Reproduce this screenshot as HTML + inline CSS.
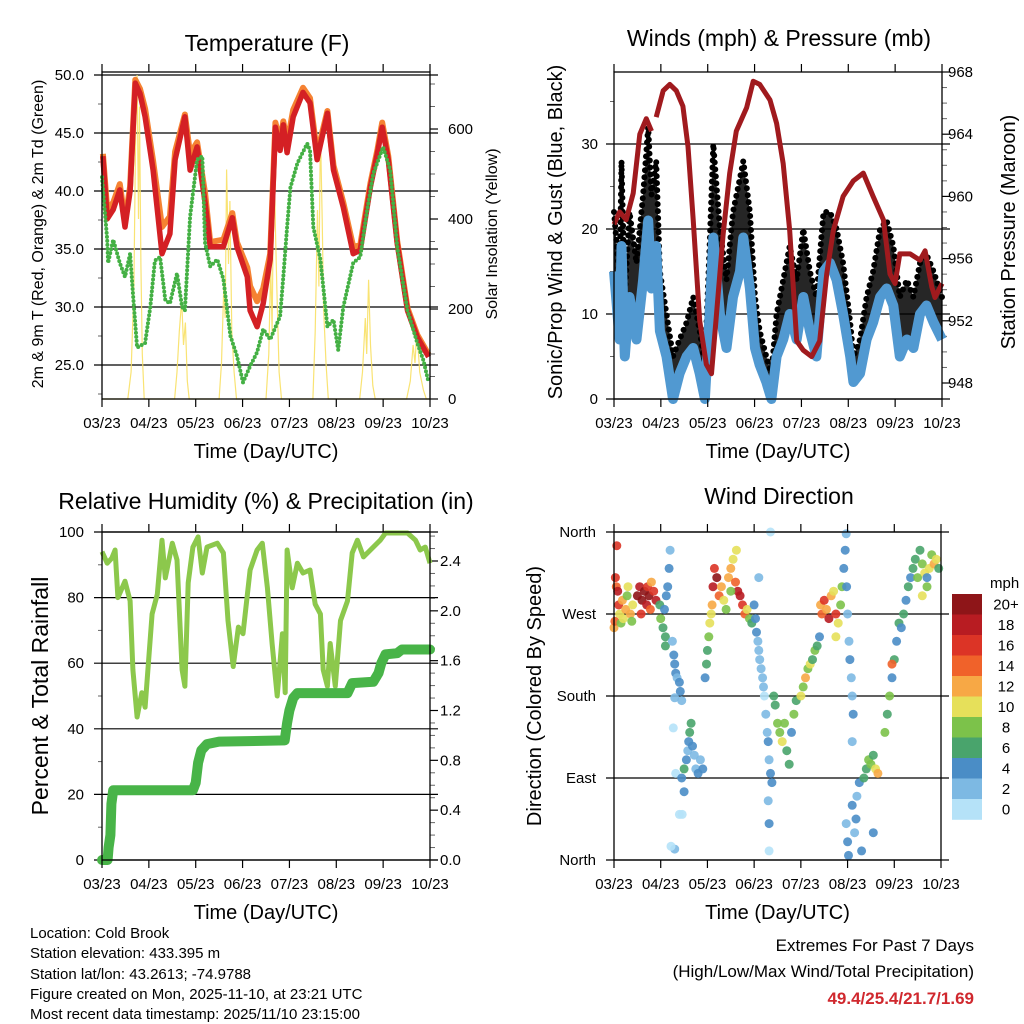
<!DOCTYPE html>
<html><head><meta charset="utf-8">
<style>
html,body{margin:0;padding:0;background:#fff;}
svg{display:block;font-family:"Liberation Sans",Arial,sans-serif;}
</style></head>
<body>
<svg id="fig" width="1024" height="1024" viewBox="0 0 1024 1024" xmlns="http://www.w3.org/2000/svg">
<rect x="0" y="0" width="1024" height="1024" fill="#fff"/>
<g id="g1"></g>
<g id="g2"></g>
<g id="g3"></g>
<g id="g4"></g>
<g font-size="15" fill="#000">
<text x="30" y="938">Location: Cold Brook</text>
<text x="30" y="958">Station elevation: 433.395 m</text>
<text x="30" y="979">Station lat/lon: 43.2613; -74.9788</text>
<text x="30" y="999">Figure created on Mon, 2025-11-10, at 23:21 UTC</text>
<text x="30" y="1019">Most recent data timestamp: 2025/11/10 23:15:00</text>
</g>
<g text-anchor="end" font-size="17">
<text x="974" y="951">Extremes For Past 7 Days</text>
<text x="974" y="977">(High/Low/Max Wind/Total Precipitation)</text>
<text x="974" y="1004" fill="#d0282e" font-weight="bold">49.4/25.4/21.7/1.69</text>
</g>
</svg>
<script>
// ---------- data ----------
const dayTicks = ["03/23","04/23","05/23","06/23","07/23","08/23","09/23","10/23"];
// Temperature panel
const tTimes = [0.02,0.11,0.24,0.38,0.49,0.60,0.71,0.81,0.92,1.09,1.28,1.45,1.56,1.77,1.88,2.03,2.20,2.31,2.59,2.78,2.88,3.10,3.16,3.31,3.44,3.59,3.70,3.80,3.87,3.95,4.08,4.29,4.44,4.59,4.81,4.94,5.15,5.36,5.51,5.73,5.88,5.98,6.11,6.30,6.52,6.73,6.97];
const temp2m = [43.0,37.6,38.4,40.1,36.9,40.0,49.3,48.4,46.4,41.8,34.6,36.3,42.7,46.4,41.8,43.8,39.0,35.2,35.2,37.7,35.2,32.6,29.7,28.3,30.3,34.1,45.5,43.5,45.7,43.3,46.4,48.5,47.6,42.7,46.7,41.8,38.6,34.6,34.9,40.4,43.3,45.5,42.7,35.5,29.7,27.4,25.7];
const temp9m = [43.2,38.4,39.0,40.6,37.4,40.4,49.6,48.8,47.1,42.6,36.9,37.8,43.4,46.6,43.2,44.2,39.8,35.6,35.8,38.1,35.6,33.4,31.8,30.5,31.6,34.6,45.9,44.2,46.0,44.1,47.0,48.9,48.0,43.2,46.9,42.2,39.0,35.2,35.3,40.7,43.6,45.9,43.0,35.7,29.9,27.6,25.9];
const tdTimes = [0,0.11,0.13,0.24,0.38,0.49,0.60,0.66,0.75,0.92,1.03,1.13,1.24,1.35,1.45,1.60,1.71,1.77,1.88,2.03,2.14,2.20,2.31,2.46,2.59,2.74,2.88,3.01,3.16,3.31,3.44,3.59,3.80,3.87,3.95,4.02,4.17,4.38,4.44,4.51,4.66,4.81,4.94,5.04,5.15,5.36,5.51,5.66,5.79,6.00,6.15,6.30,6.52,6.73,6.86,6.97];
const dewpt = [41.2,35.8,33.8,35.8,33.8,32.6,34.6,31.2,26.5,26.9,30.0,34.0,34.3,30.6,30.3,32.9,30.0,29.7,37.8,42.7,43.0,35.5,33.5,34.1,32.4,27.5,25.8,23.5,24.9,26.1,28.1,27.2,29.2,32.6,36.9,40.3,42.4,44.1,43.5,36.9,34.1,28.3,28.9,26.3,30.0,33.8,34.3,38.4,41.5,43.8,41.8,35.2,29.7,26.9,25.4,23.5];
const solarTimes = [0,0.55,0.62,0.68,0.72,0.75,0.78,0.80,0.83,0.86,0.90,1.55,1.60,1.65,1.70,1.74,1.78,1.82,1.86,2.50,2.55,2.60,2.63,2.66,2.70,2.73,2.77,2.82,2.87,3.50,3.56,3.60,3.63,3.67,3.70,3.73,3.78,3.83,4.50,4.55,4.60,4.63,4.66,4.70,4.73,4.78,4.83,5.50,5.56,5.62,5.65,5.69,5.73,5.78,5.83,6.50,6.58,6.64,6.68,6.72,6.78,6.86,6.92,7.0];
const solarVals  = [0,0,60,250,600,720,400,650,300,100,0,0,60,150,220,120,170,40,0,0,80,250,180,510,300,440,150,60,0,0,100,300,150,560,380,250,60,0,0,150,420,250,600,400,200,80,0,0,60,180,100,265,120,30,0,0,40,120,80,155,60,20,0,0];
// Winds panel
const wTimes = [0,0.12,0.16,0.23,0.33,0.48,0.62,0.73,0.80,0.90,0.98,1.12,1.26,1.40,1.55,1.69,1.83,1.94,2.04,2.12,2.26,2.40,2.54,2.69,2.76,2.90,3.01,3.11,3.25,3.36,3.47,3.61,3.75,3.90,4.04,4.18,4.32,4.47,4.61,4.75,4.89,5.04,5.11,5.25,5.39,5.53,5.68,5.82,5.96,6.10,6.25,6.39,6.53,6.67,6.82,7.0];
const windSpd = [15,7,18,5,12,7,14,21,13,18,8,5,0,3,5,6,3,0,10,19,10,6,12,15,19,13,6,4,2,0,5,7,10,7,12,8,5,15,16,14,10,5,2,3,7,9,12,13,11,5,7,6,10,11,9,7];
const windGust = [22,14,28,12,22,16,24,32,24,28,15,10,5,7,9,12,8,4,18,30,20,14,22,26,28,22,12,8,5,3,10,14,18,14,20,15,12,22,22,20,16,9,5,7,12,15,20,21,18,12,14,12,16,17,15,12];
const pTimes = [0,0.12,0.26,0.41,0.55,0.69,0.80,null,0.90,1.05,1.19,1.33,1.47,1.58,1.69,1.83,1.97,2.08,2.19,2.33,2.47,2.61,2.83,2.97,3.11,3.33,3.47,3.61,3.75,3.90,4.04,4.22,4.39,4.54,4.68,4.89,5.11,5.32,5.53,5.75,5.89,6.0,6.10,6.32,6.53,6.64,6.78,6.85,7.0];
const pressure = [958.2,959.0,958.5,960.2,964.0,965.0,964.2,null,965.1,966.8,967.2,966.8,965.8,963.2,958.5,952.0,949.2,948.6,952.5,957.6,961.5,964.2,965.7,967.4,967.2,966.2,964.7,962.1,957.8,950.7,950.1,949.7,950.7,955.0,957.8,960.0,961.0,961.5,960.0,958.5,955.0,954.4,956.3,956.3,955.9,956.5,954.2,953.5,954.4];
// RH / precip panel
const rhTimes = [0,0.11,0.21,0.28,0.34,0.49,0.60,0.66,0.75,0.85,0.92,1.07,1.18,1.28,1.35,1.50,1.60,1.71,1.77,1.84,1.94,2.05,2.14,2.24,2.46,2.59,2.69,2.80,2.91,3.01,3.16,3.31,3.42,3.53,3.63,3.74,3.85,3.91,3.95,4.06,4.17,4.29,4.44,4.55,4.66,4.72,4.81,4.87,4.98,5.09,5.24,5.34,5.45,5.58,5.79,5.94,6.05,6.52,6.69,6.79,6.90,7.0];
const rhVals = [94,90.5,92,94.5,80,85,79,58,43.6,51,46.6,75,81,97.5,86,96.6,91.5,58,53,84.5,95.4,98.5,87.5,95.4,96.6,93.6,73,59,71,69,88.4,94.5,96.6,83,66,50,69,51,94.5,83,90.5,87.5,88.4,78,75,58,53,66,53,73,79,93.6,97.5,92.4,95.4,97.5,99.7,99.7,97.5,94.5,95.4,90.5];
const prTimes = [0,0.12,0.14,0.18,0.20,0.24,1.94,2.0,2.05,2.12,2.24,2.5,3.9,3.95,4.0,4.08,4.17,5.24,5.34,5.79,5.9,5.96,6.05,6.3,6.4,7.0];
const prVals  = [0,0,0.1,0.2,0.45,0.56,0.56,0.62,0.78,0.88,0.93,0.95,0.96,1.1,1.2,1.3,1.34,1.34,1.42,1.43,1.5,1.58,1.65,1.66,1.69,1.69];
// Wind direction panel
const dirDays = [0.0,0.02,0.05,0.03,0.08,0.1,0.12,0.15,0.18,0.2,0.25,0.28,0.3,0.35,0.38,0.4,0.06,0.5,0.55,0.6,0.65,0.7,0.72,0.75,0.78,0.8,0.85,0.9,0.58,0.98,1.0,1.05,1.08,1.1,1.12,1.15,1.18,1.2,1.1,1.25,1.28,1.3,1.32,1.35,1.4,1.42,1.45,1.3,1.27,1.32,1.4,1.3,1.22,1.45,1.5,1.55,1.58,1.6,1.62,1.65,1.68,1.72,1.75,1.8,1.85,1.9,1.5,1.46,1.95,1.98,2.0,2.03,2.05,2.08,2.1,2.12,2.15,2.2,2.25,2.3,2.35,2.4,2.45,2.5,2.55,2.6,2.65,2.7,2.75,2.8,2.85,2.9,2.95,2.5,2.62,3.0,3.03,3.05,3.08,3.1,3.12,3.15,3.18,3.2,3.22,3.25,3.28,3.3,3.32,3.35,3.38,3.1,3.3,3.32,3.32,3.35,3.42,3.45,3.5,3.55,3.6,3.65,3.7,3.75,3.8,3.85,3.9,4.0,4.05,4.1,4.15,4.2,4.25,4.3,4.35,4.4,4.42,4.45,4.5,4.55,4.6,4.65,4.7,4.75,4.8,4.85,4.88,4.75,4.92,4.95,4.97,4.98,5.0,5.03,5.05,5.08,5.1,5.12,5.1,4.97,5.0,5.02,5.1,5.15,5.18,5.2,5.25,5.3,5.35,5.4,5.45,5.5,5.55,5.6,5.65,5.55,5.8,5.85,5.9,5.95,6.0,6.05,6.1,6.15,6.2,6.25,6.3,6.35,5.95,6.4,6.45,6.5,6.55,6.6,6.65,6.7,6.75,6.8,6.85,6.9,6.95,6.6,6.7];
const dirVals = [255,262,300,310,295,280,270,260,285,265,275,290,300,270,262,280,345,290,300,285,295,280,300,290,275,305,295,285,270,280,265,255,275,245,290,300,320,340,235,240,225,215,205,200,195,185,175,178,145,95,50,12,15,90,100,110,120,130,140,150,125,115,100,95,110,100,75,50,200,215,230,245,260,270,280,300,320,310,290,300,285,275,310,320,330,305,295,290,280,270,275,265,260,295,340,280,265,250,240,230,220,210,200,190,180,160,140,130,110,95,85,310,65,40,10,360,180,170,150,140,130,150,120,105,140,160,175,180,190,200,210,215,220,230,235,245,280,270,285,275,265,290,295,270,260,280,300,245,320,340,358,300,270,240,220,200,180,160,130,40,20,5,60,30,45,70,85,10,90,100,110,105,115,100,95,30,140,160,180,200,220,240,260,255,270,285,300,310,215,320,330,310,340,325,315,300,320,335,325,330,320,290,310];
const dirSpd = [12,14,14,16,18,16,10,8,12,10,12,8,10,12,8,10,16,20,18,20,20,18,16,20,14,12,16,18,16,6,8,6,4,6,4,4,4,2,6,2,4,4,4,2,4,4,2,2,0,0,0,2,0,4,6,4,2,4,6,6,4,2,2,4,2,4,4,0,4,6,6,8,10,10,12,18,16,20,14,12,10,8,12,12,10,14,18,18,16,14,10,8,6,8,10,4,4,4,2,2,2,2,2,2,0,2,2,4,2,4,4,2,2,4,0,0,6,6,8,8,10,8,6,6,4,8,6,10,8,12,8,10,6,8,6,4,12,14,16,12,18,12,10,16,10,8,8,10,4,4,2,4,2,2,4,2,2,4,2,2,4,4,4,2,4,2,4,4,6,6,8,8,6,10,12,4,8,6,8,4,6,4,6,4,6,4,6,4,14,6,6,8,6,8,10,8,10,8,12,10,6,10,4];
const speedLabels = ["0","2","4","6","8","10","12","14","16","18","20+"];
const speedColors = ["#b5e2f8","#7db9e3","#4a8dc6","#49a46c","#7cc24a","#e6e05a","#f7a845","#f0622a","#dc3426","#b81c22","#8e1518"];

// ---------- helpers ----------
const NS="http://www.w3.org/2000/svg";
function mk(parent, tag, attrs, text){
  const e=document.createElementNS(NS,tag);
  for(const k in attrs) e.setAttribute(k,attrs[k]);
  if(text!==undefined) e.textContent=text;
  parent.appendChild(e);
  return e;
}
function lin(d0,d1,r0,r1){return v=>r0+(v-d0)/(d1-d0)*(r1-r0);}
function pathFrom(ts,vs,xf,yf){
  let d="",pen=false;
  for(let i=0;i<ts.length;i++){
    if(ts[i]===null||vs[i]===null){pen=false;continue;}
    d+=(pen?"L":"M")+xf(ts[i]).toFixed(1)+","+yf(vs[i]).toFixed(1);
    pen=true;
  }
  return d;
}
function xAxis(g,x0,x1,yTop,yBot,xf,ttlY){
  for(let i=0;i<dayTicks.length;i++){
    const x=xf(i);
    const t1=mk(g,"line",{x1:x,y1:yBot,x2:x,y2:yBot+8,stroke:"#000","stroke-width":1.2});
    
    
    const t2=mk(g,"line",{x1:x,y1:yTop,x2:x,y2:yTop-8,stroke:"#000","stroke-width":1.2});
    
    
    const lb=mk(g,"text",{x:x,y:yBot+29,"text-anchor":"middle","font-size":15},dayTicks[i]);
    
    
  }
  const tt=mk(g,"text",{x:(x0+x1)/2,y:ttlY,"text-anchor":"middle","font-size":20},"Time (Day/UTC)");
  
  
}
function frame(g,x0,x1,y0,y1){
  const r=mk(g,"rect",{x:x0,y:y0,width:x1-x0,height:y1-y0,fill:"none",stroke:"#000","stroke-width":1.3});
  
  
}
function leftAxis(g,x0,x1,yf,vals,labels,minorVals,grid,labX,fs){
  for(let i=0;i<vals.length;i++){
    const y=yf(vals[i]);
    const l=mk(g,"line",{x1:x0-8,y1:y,x2:grid?x1+8:x0,y2:y,stroke:"#000","stroke-width":1.2});
    
    
    const t=mk(g,"text",{x:labX,y:y+5,"text-anchor":"end","font-size":fs||15},labels[i]);
    
    
  }
  for(const v of minorVals){
    const y=yf(v);
    const l=mk(g,"line",{x1:x0-4,y1:y,x2:x0,y2:y,stroke:"#666","stroke-width":1});
    
    
  }
}
function rightAxis(g,x1,yf,vals,labels,minorVals,labX){
  for(let i=0;i<vals.length;i++){
    const y=yf(vals[i]);
    const l=mk(g,"line",{x1:x1,y1:y,x2:x1+8,y2:y,stroke:"#000","stroke-width":1.2});
    
    
    const t=mk(g,"text",{x:labX,y:y+5,"text-anchor":"start","font-size":15},labels[i]);
    
    
  }
  for(const v of minorVals){
    const y=yf(v);
    const l=mk(g,"line",{x1:x1,y1:y,x2:x1+5,y2:y,stroke:"#666","stroke-width":1});
    
    
  }
}
function vText(g,x,y,txt,fs,name){
  const t=mk(g,"text",{x:x,y:y,"text-anchor":"middle","font-size":fs,transform:`rotate(-90 ${x} ${y})`},txt);
  
  
}
function title(g,x,y,txt){
  const t=mk(g,"text",{x:x,y:y,"text-anchor":"middle","font-size":23},txt);
  
  
}
function rng(a,b,s){const r=[];for(let v=a;v<=b+1e-9;v+=s)r.push(+v.toFixed(3));return r;}

// ---------- Panel 1: Temperature ----------
(function(){
  const g=document.getElementById("g1");
  const X0=102,X1=430,Y0=72,Y1=399;
  const xf=lin(0,7,X0,X1), yf=lin(22.07,50.26,Y1,Y0), yr=lin(0,726.7,Y1,Y0);
  title(g,267,51,"Temperature (F)");
  const ticks=[25,30,35,40,45,50];
  leftAxis(g,X0,X1,yf,ticks,ticks.map(v=>v.toFixed(1)),rng(22.5,50,2.5).filter(v=>v%5!==0),true,84,15);
  rightAxis(g,X1,yr,[0,200,400,600],["0","200","400","600"],rng(50,700,50).filter(v=>v%200!==0),448);
  const s=mk(g,"path",{d:pathFrom(solarTimes,solarVals,xf,yr),fill:"none",stroke:"#f8e064","stroke-width":1.2,"stroke-opacity":0.9});
  
  
  const o=mk(g,"path",{d:pathFrom(tTimes,temp9m,xf,yf),fill:"none",stroke:"#f58232","stroke-width":6,"stroke-linejoin":"round"});
  
  
  const r=mk(g,"path",{d:pathFrom(tTimes,temp2m,xf,yf),fill:"none",stroke:"#d42024","stroke-width":5.5,"stroke-linejoin":"round"});
  
  
  const d=mk(g,"path",{d:pathFrom(tdTimes,dewpt,xf,yf),fill:"none",stroke:"#44b044","stroke-width":4,"stroke-linecap":"round","stroke-dasharray":"0 4"});
  
  
  frame(g,X0,X1,Y0,Y1);
  xAxis(g,X0,X1,Y0,Y1,xf,458);
  vText(g,43,234,"2m & 9m T (Red, Orange) & 2m Td (Green)",16,"y-axis-title");
  vText(g,497,234,"Solar Insolation (Yellow)",16,"y2-axis-title");
})();

// ---------- Panel 2: Winds & Pressure ----------
(function(){
  const g=document.getElementById("g2");
  const X0=614,X1=942,Y0=72,Y1=399;
  const xf=lin(0,7,X0,X1), yf=lin(0,38.47,Y1,Y0), yr=lin(948,968,383,72);
  title(g,779,46,"Winds (mph) & Pressure (mb)");
  leftAxis(g,X0,X1,yf,[0,10,20,30],["0","10","20","30"],[5,15,25,35],true,598,15);
  const rmin=[];for(let v=949;v<=968;v++){if(v%4!==0)rmin.push(v);}
  rightAxis(g,X1,yr,[948,952,956,960,964,968],["948","952","956","960","964","968"],rmin,948);
  let band="";
  for(let i=0;i<wTimes.length;i++) band+=(i?"L":"M")+xf(wTimes[i]).toFixed(1)+","+yf(windGust[i]).toFixed(1);
  for(let i=wTimes.length-1;i>=0;i--) band+="L"+xf(wTimes[i]).toFixed(1)+","+yf(windSpd[i]).toFixed(1);
  const gb=mk(g,"path",{d:band+"Z",fill:"#000","fill-opacity":0.85,stroke:"none"});
  
  
  const gd=mk(g,"path",{d:pathFrom(wTimes,windGust,xf,yf),fill:"none",stroke:"#000","stroke-width":6,"stroke-linecap":"round","stroke-dasharray":"0 7"});
  
  
  const wl=mk(g,"path",{d:pathFrom(wTimes,windSpd,xf,yf),fill:"none",stroke:"#5199d1","stroke-width":10,"stroke-linejoin":"round"});
  
  
  const pl=mk(g,"path",{d:pathFrom(pTimes,pressure,xf,yr),fill:"none",stroke:"#a01a1e","stroke-width":5,"stroke-linejoin":"round"});
  
  
  frame(g,X0,X1,Y0,Y1);
  xAxis(g,X0,X1,Y0,Y1,xf,458);
  vText(g,562,232,"Sonic/Prop Wind & Gust (Blue, Black)",20,"y-axis-title");
  vText(g,1015,232,"Station Pressure (Maroon)",20,"y2-axis-title");
})();

// ---------- Panel 3: RH & Precip ----------
(function(){
  const g=document.getElementById("g3");
  const X0=102,X1=430,Y0=532,Y1=860;
  const xf=lin(0,7,X0,X1), yf=lin(0,100,Y1,Y0), yr=lin(0,2.4,860,561);
  title(g,266,509,"Relative Humidity (%) & Precipitation (in)");
  leftAxis(g,X0,X1,yf,[0,20,40,60,80,100],["0","20","40","60","80","100"],[10,30,50,70,90],true,84,15);
  const ticks=[0,0.4,0.8,1.2,1.6,2.0,2.4];
  rightAxis(g,X1,yr,ticks,ticks.map(v=>v.toFixed(1)),rng(0.1,2.6,0.1).filter(v=>Math.abs(v*10%4)>0.01),440);
  const rh=mk(g,"path",{d:pathFrom(rhTimes,rhVals,xf,yf),fill:"none",stroke:"#8cc84c","stroke-width":5,"stroke-linejoin":"round"});
  
  
  const pr=mk(g,"path",{d:pathFrom(prTimes,prVals,xf,yr),fill:"none",stroke:"#48b448","stroke-width":10,"stroke-linejoin":"round","stroke-linecap":"round"});
  
  
  frame(g,X0,X1,Y0,Y1);
  xAxis(g,X0,X1,Y0,Y1,xf,919);
  vText(g,48,696,"Percent & Total Rainfall",23,"y-axis-title");
})();

// ---------- Panel 4: Wind Direction ----------
(function(){
  const g=document.getElementById("g4");
  const X0=614,X1=941,Y0=532,Y1=860;
  const xf=lin(0,7,X0,X1), yf=lin(0,360,Y1,Y0);
  title(g,779,504,"Wind Direction");
  leftAxis(g,X0,X1,yf,[0,90,180,270,360],["North","East","South","West","North"],[],true,596,15);
  for(let i=0;i<dirDays.length;i++){
    const bin=Math.min(10,Math.max(0,Math.floor(dirSpd[i]/2)));
    const c=mk(g,"circle",{cx:xf(dirDays[i]).toFixed(1),cy:yf(dirVals[i]).toFixed(1),r:4.5,fill:speedColors[bin],"fill-opacity":0.9});
    
    
  }
  frame(g,X0,X1,Y0,Y1);
  xAxis(g,X0,X1,Y0,Y1,xf,919);
  vText(g,541,696,"Direction (Colored By Speed)",20,"y-axis-title");
  const cb=mk(g,"g",{});
  
  
  const bx=952,by=594,bw=30,bh=20.5;
  for(let i=0;i<speedColors.length;i++){
    const k=speedColors.length-1-i;
    const r=mk(cb,"rect",{x:bx,y:by+i*bh,width:bw,height:bh+0.3,fill:speedColors[k]});
    
    
    const t=mk(cb,"text",{x:1006,y:by+i*bh+bh/2+5,"text-anchor":"middle","font-size":15},speedLabels[k]);
    
    
  }
  const u=mk(cb,"text",{x:990,y:588,"font-size":15},"mph");
  
  
})();
</script>
</body></html>
